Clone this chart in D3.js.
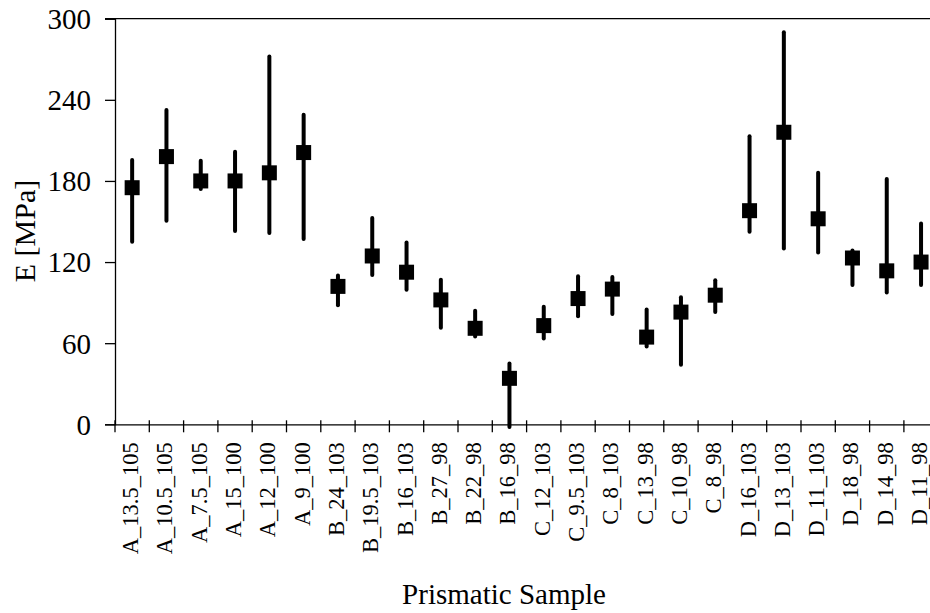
<!DOCTYPE html>
<html><head><meta charset="utf-8">
<script src="https://cdn.jsdelivr.net/npm/d3@7"></script>
<style>body{margin:0;background:#fff}svg{display:block}text{font-family:"Liberation Serif","Times New Roman","DejaVu Serif",serif;fill:#000}</style>
</head><body>
<svg id="c" width="930" height="613"></svg>
<script>
const categories = ["A_13.5_105","A_10.5_105","A_7.5_105","A_15_100","A_12_100","A_9_100","B_24_103","B_19.5_103","B_16_103","B_27_98","B_22_98","B_16_98","C_12_103","C_9.5_103","C_8_103","C_13_98","C_10_98","C_8_98","D_16_103","D_13_103","D_11_103","D_18_98","D_14_98","D_11_98"];
const meanE = [175,198,180,180,186,201,102,124.5,112.5,92,71,34,73,93,100,64.5,83,95.5,158,216,152,123,113.5,120];
const upperE = [195.5,232.5,195,201.5,272,229,110,152.5,134.5,107,84,45,87,109.5,109,85,94,106.5,213,290,186,128.5,181.5,148.5];
const lowerE = [135,150.5,174,143,141.5,137,88,110.5,99.5,71.5,65,-2,63.5,80,81.5,57.5,44,83,142.5,130,127,103,97.5,103];
const yTicks = [0,60,120,180,240,300];

const FF = "Liberation Serif, Times New Roman, DejaVu Serif, serif";
const svg = d3.select("#c");
const mLeft = 115, mTop = 18.7, mBottom = 424.3, step = 34.3;
const x = d3.scaleBand().domain(categories).range([mLeft, mLeft + step*categories.length]).padding(0);
const y = d3.scaleLinear().domain([0,300]).range([mBottom, mTop]);

// top border line
svg.append("line").attr("x1",105).attr("x2",930).attr("y1",y(300)).attr("y2",y(300)).attr("stroke","#000").attr("stroke-width",1.3);

// y axis
const ya = svg.append("g").attr("transform",`translate(${mLeft},0)`).call(d3.axisLeft(y).tickValues(yTicks).tickSize(10).tickPadding(14));
ya.attr("font-family",FF);
ya.select(".domain").attr("stroke","#000").attr("stroke-width",1.3);
ya.selectAll(".tick line").attr("stroke","#000").attr("stroke-width",1.3);
ya.selectAll(".tick text").attr("font-size",29).attr("font-family",FF).attr("dy","0.34em");

// x axis
const xa = svg.append("g").attr("transform",`translate(0,${mBottom})`).call(d3.axisBottom(x).tickSize(0).tickFormat(""));
xa.select(".domain").attr("stroke","#000").attr("stroke-width",1.3);
xa.selectAll(".tick").remove();
const tickPos = d3.range(categories.length+1).map(i => mLeft + i*step);
svg.append("g").selectAll("line").data(tickPos).join("line")
  .attr("x1",d=>d).attr("x2",d=>d).attr("y1",mBottom-4).attr("y2",mBottom+8)
  .attr("stroke","#000").attr("stroke-width",1.3);
svg.append("g").selectAll("text").data(categories).join("text")
  .attr("transform",d=>`translate(${x(d)+x.bandwidth()/2+6},${mBottom+18}) rotate(-90)`)
  .attr("text-anchor","end").attr("font-size",22.5).attr("font-family",FF).text(d=>d);

// error bars
const g = svg.append("g");
g.selectAll("line.err").data(categories).join("line").attr("class","err")
  .attr("x1",d=>x(d)+x.bandwidth()/2).attr("x2",d=>x(d)+x.bandwidth()/2)
  .attr("y1",(d,i)=>y(upperE[i])).attr("y2",(d,i)=>y(lowerE[i]))
  .attr("stroke","#000").attr("stroke-width",4).attr("stroke-linecap","round");
const sq = 15;
g.selectAll("rect").data(categories).join("rect")
  .attr("x",d=>x(d)+x.bandwidth()/2-sq/2).attr("y",(d,i)=>y(meanE[i])-sq/2)
  .attr("width",sq).attr("height",sq).attr("fill","#000");

// axis titles
svg.append("text").attr("x",504).attr("y",604).attr("text-anchor","middle").attr("font-size",29).attr("font-family",FF).text("Prismatic Sample");
svg.append("text").attr("transform","translate(35,231) rotate(-90)").attr("text-anchor","middle").attr("font-size",30).attr("font-family",FF).text("E [MPa]");
</script>
</body></html>
